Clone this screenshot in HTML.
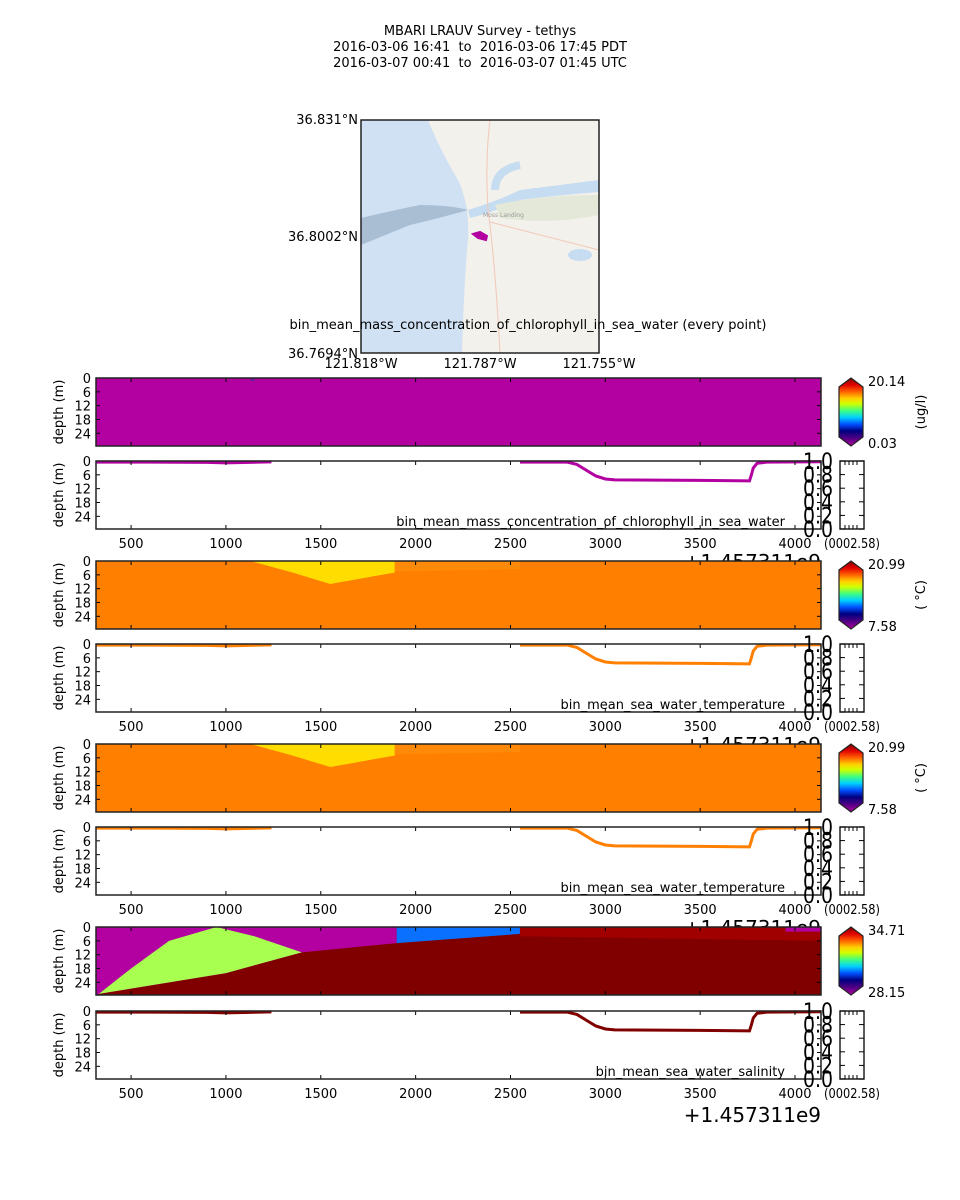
<!DOCTYPE html>
<html><head><meta charset="utf-8"><style>
html,body{margin:0;padding:0;background:#fff;}
svg{display:block;font-family:"DejaVu Sans","Liberation Sans",sans-serif;}
</style></head><body>
<svg id="fig" width="960" height="1200" viewBox="0 0 960 1200" xmlns="http://www.w3.org/2000/svg">
<defs>
<linearGradient id="cmap" x1="0" y1="1" x2="0" y2="0">
<stop offset="0" stop-color="#b300a0"/><stop offset="0.12" stop-color="#4b0082"/><stop offset="0.22" stop-color="#000080"/>
<stop offset="0.32" stop-color="#0050ff"/><stop offset="0.42" stop-color="#00d0ff"/><stop offset="0.52" stop-color="#40ff80"/>
<stop offset="0.62" stop-color="#d0ff00"/><stop offset="0.7" stop-color="#ffd000"/><stop offset="0.8" stop-color="#ff6000"/>
<stop offset="0.9" stop-color="#e00000"/><stop offset="1" stop-color="#800000"/>
</linearGradient>
<clipPath id="mapclip"><rect x="361" y="120" width="238" height="233"/></clipPath>
</defs>
<g font-size="13" text-anchor="middle" fill="#000">
<text x="480" y="35" xml:space="preserve">MBARI LRAUV Survey - tethys</text>
<text x="480" y="51" xml:space="preserve">2016-03-06 16:41  to  2016-03-06 17:45 PDT</text>
<text x="480" y="67" xml:space="preserve">2016-03-07 00:41  to  2016-03-07 01:45 UTC</text>
</g>
<g>
<g clip-path="url(#mapclip)">
<rect x="361" y="120" width="238" height="233" fill="#f3f1ec"/>
<path d="M361,120 L428,120 Q440,150 458,180 Q470,205 468,240 Q464,280 462,353 L361,353 Z" fill="#cfe1f3"/>
<path d="M361,218 Q395,210 420,205 Q450,205 468,210 Q440,218 410,225 Q385,235 361,245 Z" fill="#a9bdd3"/>
<path d="M468,210 Q500,200 520,190 Q560,185 599,180 L599,192 Q560,195 520,200 Q495,212 470,218 Z" fill="#c6dcf1"/>
<path d="M495,190 Q495,170 520,165" stroke="#c6dcf1" stroke-width="8" fill="none"/>
<path d="M495,205 Q540,195 599,195 L599,215 Q550,225 500,218 Z" fill="#e4e8d8"/>
<path d="M490,120 Q485,160 488,210 Q495,260 500,353" stroke="#f2c8b8" fill="none"/>
<path d="M490,222 L599,250" stroke="#f2c8b8" fill="none"/>
<ellipse cx="580" cy="255" rx="12" ry="6" fill="#c6dcf1"/>
</g>
<text x="483" y="217" font-size="6" fill="#999">Moss Landing</text>
<path d="M473,234 L480,232 L487,236 L486,240 L478,238 Z" fill="#b300a0" stroke="#b300a0" stroke-width="2"/>
<rect x="361" y="120" width="238" height="233" fill="none" stroke="#222" stroke-width="1.5"/>
<g font-size="13" text-anchor="end"><text x="358" y="124">36.831°N</text><text x="358" y="241">36.8002°N</text><text x="358" y="358">36.7694°N</text></g>
<g font-size="13" text-anchor="middle"><text x="361" y="368">121.818°W</text><text x="480" y="368">121.787°W</text><text x="599" y="368">121.755°W</text></g>
<text x="528" y="329" font-size="13" text-anchor="middle">bin_mean_mass_concentration_of_chlorophyll_in_sea_water (every point)</text>
</g>
<g id="panels"></g>
</svg>
<script>
// data
const xTicks=[500,1000,1500,2000,2500,3000,3500,4000];
const depthTicks=[0,6,12,18,24];
const trackTime=[315,600,900,1000,1240,null,2550,2800,2850,2900,2950,3000,3050,3500,3760,3770,3780,3800,3850,4137];
const trackDepth=[0.5,0.5,0.6,0.8,0.4,null,0.5,0.5,1.5,4,6.5,7.8,8.2,8.4,8.6,6,3,1,0.5,0.3];
const warmTime=[1130,1350,1550,1890];
const warmDepth=[0,5,10,5];
const salLensTime=[330,500,700,950,1150,1400];
const salLensDepth=[29,18,6,0,4,11];
const salFrontTime=[330,1000,1400,1900,2550,4137];
const salFrontDepth=[29,20,11,7,3,1];
const cbMax=["20.14","20.99","20.99","34.71"];
const cbMin=["0.03","7.58","7.58","28.15"];
const units=["(ug/l)","( °C)","( °C)",""];
const lineColors=["#b300a0","#ff7f00","#ff7f00","#800000"];
const names=["bin_mean_mass_concentration_of_chlorophyll_in_sea_water","bin_mean_sea_water_temperature","bin_mean_sea_water_temperature","bin_mean_sea_water_salinity"];
const ratioTicks=["1.0","0.8","0.6","0.4","0.2","0.0"];

const NS="http://www.w3.org/2000/svg";
const X0=96,X1=821,T0=315,T1=4137,DMAX=29.5,H=68;
const xs=t=>X0+(t-T0)/(T1-T0)*(X1-X0);
const g=document.getElementById('panels');
function el(tag,at,parent){const e=document.createElementNS(NS,tag);for(const k in at)e.setAttribute(k,at[k]);(parent||g).appendChild(e);return e;}
function txt(s,at,parent){const e=el('text',at,parent);e.textContent=s;return e;}
const tops=[[378,461],[561,644],[744,827],[927,1011]];
function axes(top,grp){
  const ys=d=>top+d/DMAX*H;
  depthTicks.forEach(d=>{
    el('line',{x1:X0,x2:X0+4,y1:ys(d),y2:ys(d),stroke:'#000'},grp);
    el('line',{x1:X1,x2:X1-4,y1:ys(d),y2:ys(d),stroke:'#000'},grp);
    txt(String(d),{x:91,y:ys(d)+5,'font-size':13,'text-anchor':'end'},grp);
  });
  xTicks.forEach(t=>{
    el('line',{x1:xs(t),x2:xs(t),y1:top,y2:top+4,stroke:'#000'},grp);
    el('line',{x1:xs(t),x2:xs(t),y1:top+H,y2:top+H-4,stroke:'#000'},grp);
  });
  el('rect',{x:X0,y:top,width:X1-X0,height:H,fill:'none',stroke:'#222','stroke-width':1.5},grp);
  txt('depth (m)',{x:0,y:0,'font-size':13,'text-anchor':'middle',transform:`translate(63,${top+H/2}) rotate(-90)`},grp);
  return ys;
}
function poly(ts,ds,ys){return ts.map((t,i)=>xs(t)+','+ys(ds[i])).join(' ');}
tops.forEach((tp,i)=>{
  const [it,lt]=tp;
  const gi=el('g',{});
  
  
  const ysI=d=>it+d/DMAX*H;
  const bg=i==0?'#b300a0':(i<3?'#ff7f00':'#800000');
  el('rect',{x:X0,y:it,width:X1-X0,height:H,fill:bg},gi);
  if(i==0){el('rect',{x:xs(1130),y:it,width:4,height:3,fill:'#6a1aa0'},gi);}
  if(i==1||i==2){
    el('polygon',{points:poly(warmTime,warmDepth,ysI)+' '+xs(1890)+','+ysI(0),fill:'#ffdd00'},gi);
    el('polygon',{points:`${xs(1890)},${ysI(0)} ${xs(1890)},${ysI(4.5)} ${xs(2550)},${ysI(3.5)} ${xs(2550)},${ysI(0)}`,fill:'#ff8a0a'},gi);
  }
  if(i==3){
    el('polygon',{points:`${xs(315)},${ysI(0)} ${xs(1900)},${ysI(0)} `+poly(salFrontTime.slice(0,4).reverse(),salFrontDepth.slice(0,4).reverse(),ysI)+` ${xs(315)},${ysI(29.5)}`,fill:'#b300a0'},gi);
    el('polygon',{points:poly(salLensTime,salLensDepth,ysI)+' '+poly(salFrontTime.slice(0,3).reverse(),salFrontDepth.slice(0,3).reverse(),ysI),fill:'#a8ff50'},gi);
    el('polygon',{points:`${xs(1900)},${ysI(0)} ${xs(2550)},${ysI(0)} ${xs(2550)},${ysI(3)} ${xs(1900)},${ysI(7)}`,fill:'#0a70ff'},gi);
    el('polygon',{points:`${xs(2550)},${ysI(0)} ${xs(4137)},${ysI(0)} ${xs(4137)},${ysI(6)} ${xs(2550)},${ysI(4)}`,fill:'#a00000'},gi);
    el('rect',{x:xs(3950),y:ysI(0),width:xs(4137)-xs(3950),height:ysI(2)-ysI(0),fill:'#b300a0'},gi);
  }
  axes(it,gi);
  const cb=el('g',{},gi);
  
  
  el('path',{d:`M839,${it+9} L851,${it} L863,${it+9} L863,${it+H-9} L851,${it+H} L839,${it+H-9} Z`,fill:'url(#cmap)',stroke:'#222','stroke-width':1.2},cb);
  txt(cbMax[i],{x:868,y:it+8,'font-size':13},cb);
  txt(cbMin[i],{x:868,y:it+H+2,'font-size':13},cb);
  if(units[i])txt(units[i],{x:0,y:0,'font-size':13,'text-anchor':'middle',transform:`translate(925,${it+H/2}) rotate(-90)`},cb);
  const gl=el('g',{});
  
  
  const ysL=d=>lt+d/DMAX*H;
  let segs=[],cur=[];
  trackTime.forEach((t,k)=>{if(t===null){segs.push(cur);cur=[];}else cur.push(xs(t)+','+ysL(trackDepth[k]));});
  segs.push(cur);
  segs.forEach(s=>el('polyline',{points:s.join(' '),fill:'none',stroke:lineColors[i],'stroke-width':3},gl));
  axes(lt,gl);
  xTicks.forEach(t=>txt(String(t),{x:xs(t),y:lt+H+19,'font-size':13,'text-anchor':'middle'},gl));
  txt(names[i],{x:785,y:lt+H-3,'font-size':13,'text-anchor':'end'},gl);
  txt('+1.457311e9',{x:821,y:lt+H+(i==3?43:40),'font-size':20,'text-anchor':'end'},gl);
  el('rect',{x:840,y:lt,width:24,height:H,fill:'#fff',stroke:'#222','stroke-width':1.5},gl);
  ratioTicks.forEach((r,k)=>{
    const y=lt+k*H/5;
    txt(r,{x:833,y:y+8,'font-size':22,'text-anchor':'end','textLength':30,'lengthAdjust':'spacingAndGlyphs'},gl);
    el('line',{x1:840,x2:845,y1:y,y2:y,stroke:'#000'},gl);
    el('line',{x1:864,x2:859,y1:y,y2:y,stroke:'#000'},gl);
  });
  [845,849,853,857].forEach(x=>{el('line',{x1:x,x2:x,y1:lt,y2:lt+4,stroke:'#000'},gl);el('line',{x1:x,x2:x,y1:lt+H,y2:lt+H-4,stroke:'#000'},gl);});
  txt('(0002.58)',{x:852,y:lt+H+19,'font-size':13,'text-anchor':'middle','textLength':56,'lengthAdjust':'spacingAndGlyphs'},gl);
});
</script>
</body></html>
